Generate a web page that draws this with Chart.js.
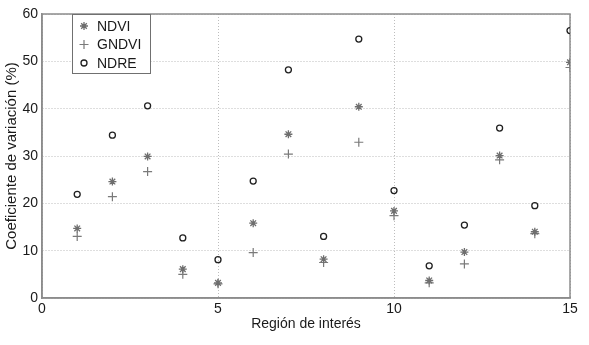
<!DOCTYPE html>
<html>
<head>
<meta charset="utf-8">
<script src="https://cdn.jsdelivr.net/npm/chart.js@4/dist/chart.umd.min.js"></script>
<style>
  html, body { margin: 0; padding: 0; background: #fff; }
  #wrap { width: 589px; height: 345px; }
</style>
</head>
<body>
<div id="wrap"><canvas id="cvChart" width="589" height="345"></canvas></div>
<script>
const regions = [1, 2, 3, 4, 5, 6, 7, 8, 9, 10, 11, 12, 13, 14, 15];
const ndvi = [14.7, 24.6, 29.9, 6.1, 3.2, 15.8, 34.6, 8.2, 40.4, 18.4, 3.7, 9.7, 30.1, 14.0, 49.8];
const gndvi = [13.0, 21.4, 26.7, 5.0, 3.0, 9.6, 30.4, 7.5, 32.9, 17.4, 3.2, 7.2, 29.2, 13.6, 48.7];
const ndre = [21.9, 34.4, 40.6, 12.7, 8.1, 24.7, 48.2, 13.0, 54.7, 22.7, 6.8, 15.4, 35.9, 19.5, 56.5];
const xTicks = [0, 5, 10, 15];
const yTicks = [0, 10, 20, 30, 40, 50, 60];

const fontFamily = '"Liberation Sans", Arial, sans-serif';
const textColor = '#1a1a1a';
const frameColor = '#8c8c8c';
const gridColor = '#bdbdbd';

const toPoints = vals => vals.map((v, i) => ({ x: regions[i], y: v }));

// top/right edges of the box, the axes only give left/bottom
const framePlugin = {
  id: 'frame',
  beforeDatasetsDraw(chart) {
    const { ctx, chartArea: a } = chart;
    ctx.save();
    ctx.strokeStyle = frameColor;
    ctx.lineWidth = 1.5;
    ctx.strokeRect(a.left, a.top, a.right - a.left, a.bottom - a.top);
    ctx.restore();
  }
};

// legend boxed inside the plot, top left
const insideLegend = {
  id: 'insideLegend',
  afterDraw(chart) {
    const { ctx, chartArea: a } = chart;
    const x0 = a.left + 30, y0 = a.top, w = 78, h = 59;
    ctx.save();
    ctx.fillStyle = '#fff';
    ctx.fillRect(x0, y0, w, h);
    ctx.strokeStyle = '#707070';
    ctx.lineWidth = 1;
    ctx.strokeRect(x0 + 0.5, y0 + 0.5, w, h);
    ctx.font = '14px ' + fontFamily;
    ctx.textBaseline = 'middle';
    ctx.fillStyle = textColor;
    chart.data.datasets.forEach((ds, i) => {
      const cy = y0 + 12 + i * 18.5;
      const opts = {
        pointStyle: ds.pointStyle,
        radius: ds.pointRadius,
        borderWidth: ds.borderWidth,
        rotation: 0
      };
      ctx.strokeStyle = ds.borderColor;
      ctx.fillStyle = ds.backgroundColor;
      ctx.lineWidth = ds.borderWidth;
      Chart.helpers.drawPoint(ctx, opts, x0 + 12, cy);
      ctx.fillStyle = textColor;
      ctx.fillText(ds.label, x0 + 25, cy + 1);
    });
    ctx.restore();
  }
};

new Chart(document.getElementById('cvChart'), {
  type: 'scatter',
  data: {
    datasets: [
      {
        label: 'NDVI',
        data: toPoints(ndvi),
        pointStyle: 'star',
        pointRadius: 4,
        borderWidth: 1.3,
        borderColor: '#6e6e6e',
        backgroundColor: '#6e6e6e'
      },
      {
        label: 'GNDVI',
        data: toPoints(gndvi),
        pointStyle: 'cross',
        pointRadius: 4.5,
        borderWidth: 1.2,
        borderColor: '#7a7a7a',
        backgroundColor: '#7a7a7a'
      },
      {
        label: 'NDRE',
        data: toPoints(ndre),
        pointStyle: 'circle',
        pointRadius: 3,
        borderWidth: 1.3,
        borderColor: '#202020',
        backgroundColor: 'rgba(255,255,255,0)'
      }
    ]
  },
  options: {
    responsive: false,
    animation: false,
    devicePixelRatio: 1,
    layout: { padding: { left: 0, top: 14, right: 19, bottom: 0 } },
    scales: {
      x: {
        type: 'linear',
        min: 0,
        max: 15,
        afterBuildTicks: s => { s.ticks = xTicks.map(v => ({ value: v })); },
        afterFit: s => { s.height = 47; },
        ticks: { color: textColor, font: { family: fontFamily, size: 14 }, padding: 3, maxRotation: 0 },
        grid: { color: gridColor, drawTicks: false, lineWidth: 1 },
        border: { display: true, color: frameColor, width: 1.5, dash: [1, 2] },
        title: {
          display: true,
          text: 'Región de interés',
          color: textColor,
          font: { family: fontFamily, size: 14 },
          padding: { top: 0, bottom: 12 }
        }
      },
      y: {
        min: 0,
        max: 60,
        afterBuildTicks: s => { s.ticks = yTicks.map(v => ({ value: v })); },
        afterFit: s => { s.width = 42; },
        ticks: { color: textColor, font: { family: fontFamily, size: 14 }, padding: 4 },
        grid: { color: gridColor, drawTicks: false, lineWidth: 1 },
        border: { display: true, color: frameColor, width: 1.5, dash: [1, 2] },
        title: {
          display: true,
          text: 'Coeficiente de variación (%)',
          color: textColor,
          font: { family: fontFamily, size: 15 },
          padding: { top: 3, bottom: 0 }
        }
      }
    },
    plugins: {
      legend: { display: false },
      tooltip: { enabled: false }
    }
  },
  plugins: [framePlugin, insideLegend]
});
</script>
</body>
</html>
